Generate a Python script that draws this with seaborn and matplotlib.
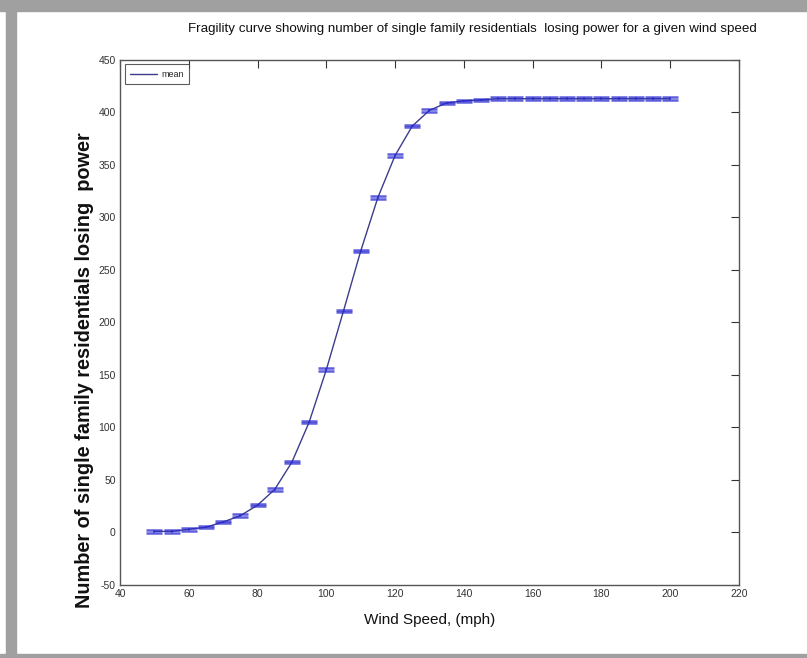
import matplotlib
matplotlib.use("Agg")
import matplotlib.pyplot as plt
import pandas as pd
import seaborn as sns
from matplotlib.patches import Rectangle

# wind speed (mph) and mean number of houses losing power
wind_speed = [50, 55, 60, 65, 70, 75, 80, 85, 90, 95, 100, 105, 110, 115, 120,
              125, 130, 135, 140, 145, 150, 155, 160, 165, 170, 175, 180, 185,
              190, 195, 200]
mean_loss = [1, 1, 3, 5, 10, 16, 26, 41, 67, 105, 155, 211, 268, 319, 359,
             387, 402, 409, 411, 412, 413, 413, 413, 413, 413, 413, 413, 413,
             413, 413, 413]
err = [1.2] * len(wind_speed)

df = pd.DataFrame({'speed': wind_speed, 'mean': mean_loss, 'err': err})

sns.set_style('white')
plt.rcParams['font.family'] = ['Liberation Sans', 'DejaVu Sans']
plt.rcParams['axes.unicode_minus'] = False

fig = plt.figure(figsize=(8.07, 6.58), dpi=100)
ax = fig.add_axes([0.1487, 0.111, 0.767, 0.798])

# gray frame of the screenshot
fig.patches.append(Rectangle((0, 0.983), 1, 0.017, transform=fig.transFigure,
                             color='#a0a0a0', zorder=0))
fig.patches.append(Rectangle((0.007, 0), 0.013, 1, transform=fig.transFigure,
                             color='#a0a0a0', zorder=0))
fig.patches.append(Rectangle((0, 0), 1, 0.006, transform=fig.transFigure,
                             color='#a0a0a0', zorder=0))

sns.lineplot(data=df, x='speed', y='mean', ax=ax, color='#3c3c8c',
             linewidth=1.0, label='mean')
ax.errorbar(df['speed'], df['mean'], yerr=df['err'], fmt='none',
            ecolor='#2a2ad0', elinewidth=1.2, capsize=5.5, capthick=1.8,
            alpha=0.75)

ax.set_xlim(40, 220)
ax.set_ylim(-50, 450)
ax.set_xticks(range(40, 221, 20))
ax.set_yticks(range(-50, 451, 50))
ax.tick_params(direction='in', length=6, width=0.8, top=True, right=True,
               labelsize=7.5, colors='#333333', pad=3)
for s in ax.spines.values():
    s.set_color('#555555')
    s.set_linewidth(1.0)

ax.set_title('Fragility curve showing number of single family residentials  losing power for a given wind speed',
             fontsize=9.6, pad=20, color='#111111', x=0.57)
ax.set_xlabel('Wind Speed, (mph)', fontsize=11, labelpad=10, color='#111111')
ax.set_ylabel('Number of single family residentials losing  power',
              fontsize=14.3, fontweight='bold', color='#111111')
ax.yaxis.set_label_coords(-0.042, 0.41)

leg = ax.legend(loc='upper left', fontsize=6.5, frameon=True, fancybox=False,
                handlelength=3, borderpad=0.6, handletextpad=0.5,
                borderaxespad=0.5)
leg.get_frame().set_edgecolor('#333333')
leg.get_frame().set_linewidth(0.8)

plt.savefig('out.png', dpi=100)
plt.close()
